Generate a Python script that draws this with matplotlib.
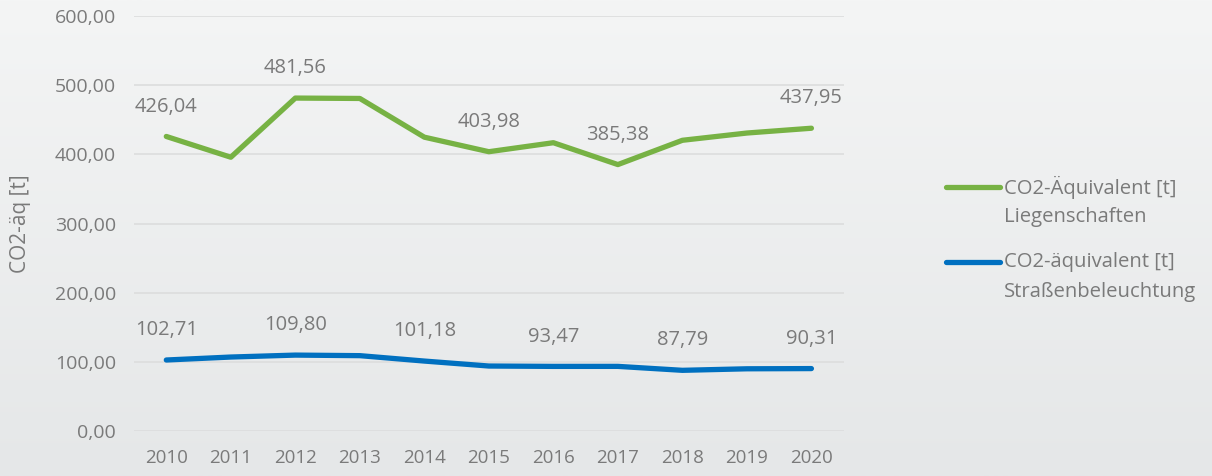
import numpy as np
import matplotlib
matplotlib.use('Agg')
import matplotlib.pyplot as plt
from matplotlib.lines import Line2D

# daten
jahre = [2010, 2011, 2012, 2013, 2014, 2015, 2016, 2017, 2018, 2019, 2020]
liegenschaften = [426.04, 396.0, 481.56, 481.0, 425.0, 403.98, 417.0, 385.38, 420.5, 431.0, 437.95]
strassenbeleuchtung = [102.71, 107.0, 109.80, 109.0, 101.18, 94.0, 93.47, 93.5, 87.79, 90.0, 90.31]
# welche punkte eine beschriftung bekommen
lab_lieg = [0, 2, 5, 7, 10]
lab_str = [0, 2, 4, 6, 8, 10]

gruen = '#77b244'
blau = '#0070c0'
grau = '#7a7a7a'

plt.rcParams['font.family'] = ['Open Sans', 'DejaVu Sans']

fig = plt.figure(figsize=(12.12, 4.76), dpi=100)

# hintergrund mit leichtem verlauf
bg = fig.add_axes([0, 0, 1, 1], zorder=-10)
grad = np.linspace(0, 1, 256).reshape(-1, 1)
top = np.array([244, 245, 245]) / 255
bot = np.array([229, 231, 232]) / 255
img = top + (bot - top) * grad[:, :, None]
bg.imshow(img, aspect='auto', extent=[0, 1, 0, 1])
bg.axis('off')

ax = fig.add_axes([0.1106, 0.0945, 0.5855, 0.8715])
ax.patch.set_alpha(0)

x = np.arange(len(jahre))
ax.plot(x, liegenschaften, color=gruen, lw=3.8, solid_capstyle='round', solid_joinstyle='round')
ax.plot(x, strassenbeleuchtung, color=blau, lw=3.8, solid_capstyle='round', solid_joinstyle='round')

def fmt(v):
    return ('%.2f' % v).replace('.', ',')

for i in lab_lieg:
    ax.annotate(fmt(liegenschaften[i]), (x[i], liegenschaften[i]), xytext=(0, 21.5),
                textcoords='offset points', ha='center', va='center', fontsize=14.5, color=grau)
for i in lab_str:
    ax.annotate(fmt(strassenbeleuchtung[i]), (x[i], strassenbeleuchtung[i]), xytext=(0, 21.5),
                textcoords='offset points', ha='center', va='center', fontsize=14.5, color=grau)

ax.set_xlim(-0.5, len(jahre) - 0.5)
ax.set_ylim(0, 600)
ax.set_yticks(np.arange(0, 601, 100))
ax.set_yticklabels([fmt(v) for v in np.arange(0, 601, 100)])
ax.set_xticks(x)
ax.set_xticklabels([str(j) for j in jahre])
ax.tick_params(length=0, labelsize=14, labelcolor=grau)
ax.tick_params(axis='x', labelsize=13.5, pad=13)
ax.tick_params(axis='y', pad=13)
ax.grid(axis='y', color='#dcdddd', lw=1.2)
ax.set_axisbelow(True)
for s in ax.spines.values():
    s.set_visible(False)

fig.text(0.017, 0.53, 'CO2-äq [t]', rotation=90, ha='center', va='center', fontsize=15, color=grau)

# legende
leg = [(gruen, 'CO2-Äquivalent [t]', 'Liegenschaften', 187),
       (blau, 'CO2-äquivalent [t]', 'Straßenbeleuchtung', 262)]
for farbe, z1, z2, ypx in leg:
    yf = 1 - ypx / 476
    fig.add_artist(Line2D([946 / 1212, 1000 / 1212], [yf, yf], color=farbe, lw=3.8,
                          solid_capstyle='round'))
    fig.text(1004 / 1212, yf, z1, ha='left', va='center', fontsize=14.6, color=grau)
    fig.text(1004 / 1212, yf - 30 / 476, z2, ha='left', va='center', fontsize=14.6, color=grau)

fig.savefig('out.png', dpi=100)
